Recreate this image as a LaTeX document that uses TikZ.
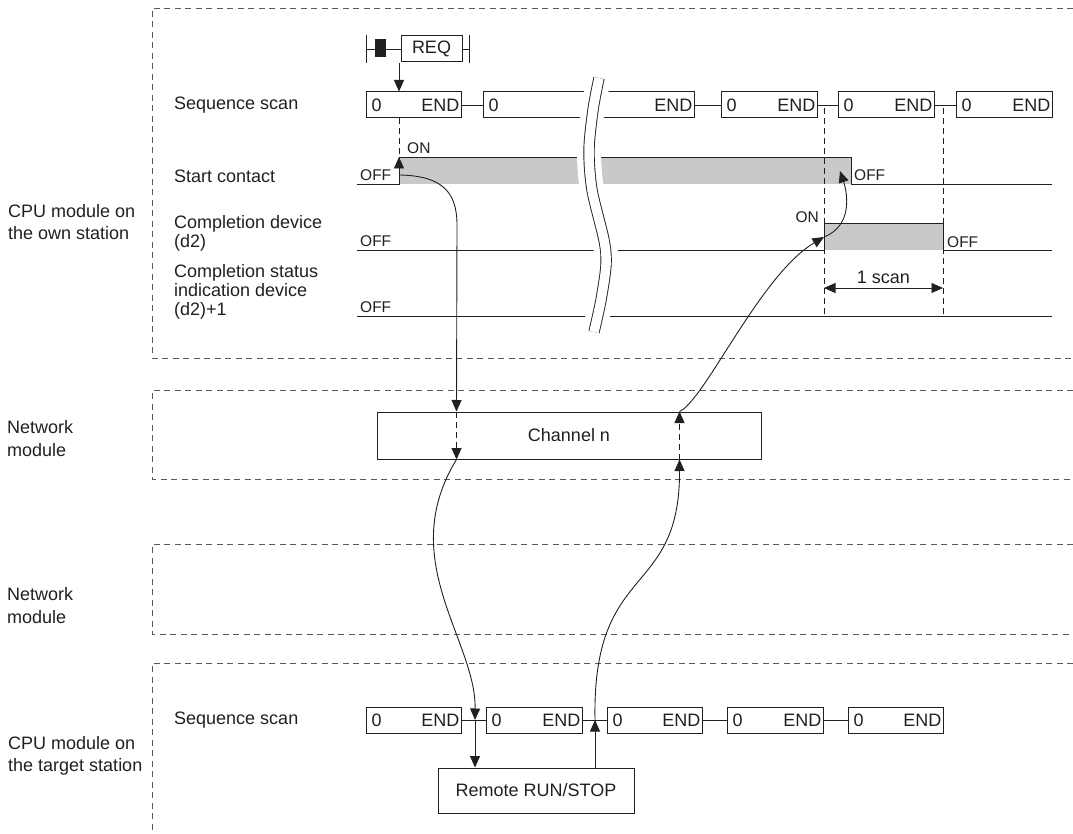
\documentclass[tikz,border=0pt]{standalone}
\usepackage{fontspec}
\setmainfont{Liberation Sans}
\usepackage{tikz}
\usetikzlibrary{arrows.meta,positioning,calc}
\definecolor{tdInk}{HTML}{231F20}
\definecolor{tdFrame}{HTML}{58595B}
\definecolor{tdFill}{HTML}{C8C9CA}
\newcommand{\tdfont}{\fontsize{18}{19}\selectfont}
\newcommand{\tdsmall}{\fontsize{15.5}{17}\selectfont}
\tikzset{
  % dashed section frame, open to the right
  secframe/.style={draw=tdFrame,line width=0.8pt,dash pattern=on 6pt off 4.5pt},
  % section title on the left
  sect/.style={anchor=west,align=left,inner sep=0pt,text=tdInk,
    font=\fontsize{18}{22.5}\selectfont},
  % row title
  rowlbl/.style={anchor=west,align=left,inner sep=0pt,text=tdInk,font=\tdfont},
  % one scan of the sequence program
  scanbx/.style={rectangle,draw=tdInk,line width=1pt,
    minimum height=26pt,inner sep=0pt},
  bxtxt/.style={inner sep=0pt,font=\tdfont,text=tdInk},
  % process box
  procbx/.style={rectangle,draw=tdInk,line width=1pt,
    inner sep=0pt,font=\tdfont,text=tdInk},
  % signal lines and arrows
  sig/.style={draw=tdInk,line width=0.9pt},
  guide/.style={draw=tdInk,line width=0.9pt,dash pattern=on 6pt off 4pt},
  arr/.style={-{Triangle[length=11.5pt,width=10pt]},draw=tdInk,line width=0.9pt},
  onoff/.style={inner sep=0pt,font=\tdsmall,text=tdInk},
}
\newcommand{\seqbox}[4]{%
  \node[scanbx,minimum width={(#3-#2)*1pt}] (#1) at ({(#2+#3)/2},#4) {};
  \node[bxtxt,anchor=west] at (#2+5.5,#4) {0};
  \node[bxtxt,anchor=east] at (#3-1.5,#4) {END};
}

\begin{document}
\begin{tikzpicture}[x=1pt,y=-1pt]
  \useasboundingbox (0,0) rectangle (1073,834);

  % Sections
  \draw[secframe] (1073,8) -- (152,8) -- (152,358) -- (1073,358);
  \draw[secframe] (1073,390) -- (152,390) -- (152,479) -- (1073,479);
  \draw[secframe] (1073,544) -- (152,544) -- (152,634) -- (1073,634);
  \draw[secframe] (1073,663) -- (152,663) -- (152,834);

  \node[sect] (own) at (8,222) {CPU module on\\the own station};
  \node[sect] (nw1) at (7,438.5) {Network\\module};
  \node[sect] (nw2) at (7,605.5) {Network\\module};
  \node[sect] (tgt) at (8,756) {CPU module on\\the target station};

  % Row titles
  \node[rowlbl] (rSeq) at (174,105) {Sequence scan};
  \node[rowlbl] (rStart) at (174,176) {Start contact};
  \node[rowlbl] (rDone) at (174,233) {Completion device\\(d2)};
  \node[rowlbl] (rStat) at (174,292) {Completion status\\indication device\\(d2)+1};
  \node[rowlbl] (rSeqT) at (174,720) {Sequence scan};

  % REQ contact
  \draw[sig] (366,35) -- (366,63);
  \node[procbx,minimum width=61pt,minimum height=26pt] (req) at (431.5,49) {REQ};
  \draw[sig] (366,49) -- (req.west);
  \fill[tdInk] (375,39) rectangle (386,57);
  \draw[sig] (req.east) -- (469,49);
  \draw[sig] (469,35) -- (469,63);

  % Scans, own station
  \seqbox{a1}{366}{461}{105}
  \seqbox{a2}{483}{694}{105}
  \seqbox{a3}{721}{817}{105}
  \seqbox{a4}{838}{934}{105}
  \seqbox{a5}{956}{1052}{105}
  \foreach \p/\q in {a1/a2,a2/a3,a3/a4,a4/a5}
    \draw[sig] (\p.east) -- (\q.west);
  \coordinate (reqOut) at (399,63);
  \draw[arr] (reqOut) -- (reqOut |- a1.north);

  % Start contact
  \fill[tdFill] (399,157) rectangle (851,184);
  \draw[sig] (357,184) -- (399,184) -- (399,157) -- (851,157) -- (851,184) -- (1052,184);
  \draw[guide] (reqOut |- a1.south) -- (399,157);

  % Completion device
  \fill[tdFill] (824,223) rectangle (943,250);
  \draw[sig] (357,250) -- (824,250) -- (824,223) -- (943,223) -- (943,250) -- (1052,250);

  % Completion status
  \draw[sig] (357,316) -- (1052,316);

  \draw[guide] (824,108) -- (824,316);
  \draw[guide] (943,108) -- (943,316);
  \draw[sig,{Triangle[length=11.5pt,width=10pt]}-{Triangle[length=11.5pt,width=10pt]}]
    (824,288) -- (943,288);
  \node[bxtxt] (oneScan) at (883.5,277) {1 scan};

  % Break
  \draw[white,line width=24pt] plot[smooth] coordinates
    {(599,78) (593,110) (589,150) (592,190) (604,240) (606,265) (601,300) (594,332)};
  \draw[tdInk,line width=0.9pt,double=white,double distance=9.5pt] plot[smooth] coordinates
    {(599,78) (593,110) (589,150) (592,190) (604,240) (606,265) (601,300) (594,332)};

  \node[onoff,anchor=west] at (407,148) {ON};
  \node[onoff,anchor=west] at (360,175) {OFF};
  \node[onoff,anchor=west] at (854,175) {OFF};
  \node[onoff,anchor=west] at (360,241) {OFF};
  \node[onoff,anchor=east] at (819,217) {ON};
  \node[onoff,anchor=west] at (947,242) {OFF};
  \node[onoff,anchor=west] at (360,307) {OFF};

  % Network module
  \node[procbx,minimum width=384pt,minimum height=47pt] (chan) at (569,435.5) {Channel n};
  \coordinate (chIn) at ([xshift=80pt]chan.north west);
  \coordinate (chOut) at ([xshift=-82pt]chan.north east);

  % Scans, target station
  \seqbox{b1}{366}{461}{720}
  \seqbox{b2}{486}{582}{720}
  \seqbox{b3}{607}{702}{720}
  \seqbox{b4}{727}{823}{720}
  \seqbox{b5}{848}{943}{720}
  \foreach \p/\q in {b1/b2,b2/b3,b3/b4,b4/b5}
    \draw[sig] (\p.east) -- (\q.west);
  \node[procbx,minimum width=196pt,minimum height=45pt] (remote) at (536,790.5) {Remote RUN/STOP};

  % Flow
  \coordinate (scOn) at (399,176);
  \coordinate (scTop) at (399,157);
  \coordinate (cdOn) at (824,237);
  \coordinate (scOff) at (840,171);
  \coordinate (tgIn) at (475,720);
  \coordinate (tgOut) at (595,720);
  \draw[arr] (scOn) -- (scTop);
  \draw[arr] (400,175) .. controls (440,176) and (457,190) .. (457,225) -- (chIn);
  \draw[arr,dash pattern=on 6pt off 4pt] (chIn) -- (chIn |- chan.south);
  \draw[arr] (chIn |- chan.south) .. controls (395,560) and (476,640) .. (tgIn);
  \draw[arr] (tgIn) -- (tgIn |- remote.north);
  \draw[arr] (tgOut |- remote.north) -- (tgOut);
  \draw[arr] (tgOut) .. controls (592,560) and (680,600) .. (chOut |- chan.south);
  \draw[arr,dash pattern=on 6pt off 4pt] (chOut |- chan.south) -- (chOut);
  \draw[arr] (chOut) .. controls (705,400) and (760,275) .. (cdOn);
  \draw[arr] (cdOn) .. controls (852,226) and (848,195) .. (scOff);
\end{tikzpicture}
\end{document}
